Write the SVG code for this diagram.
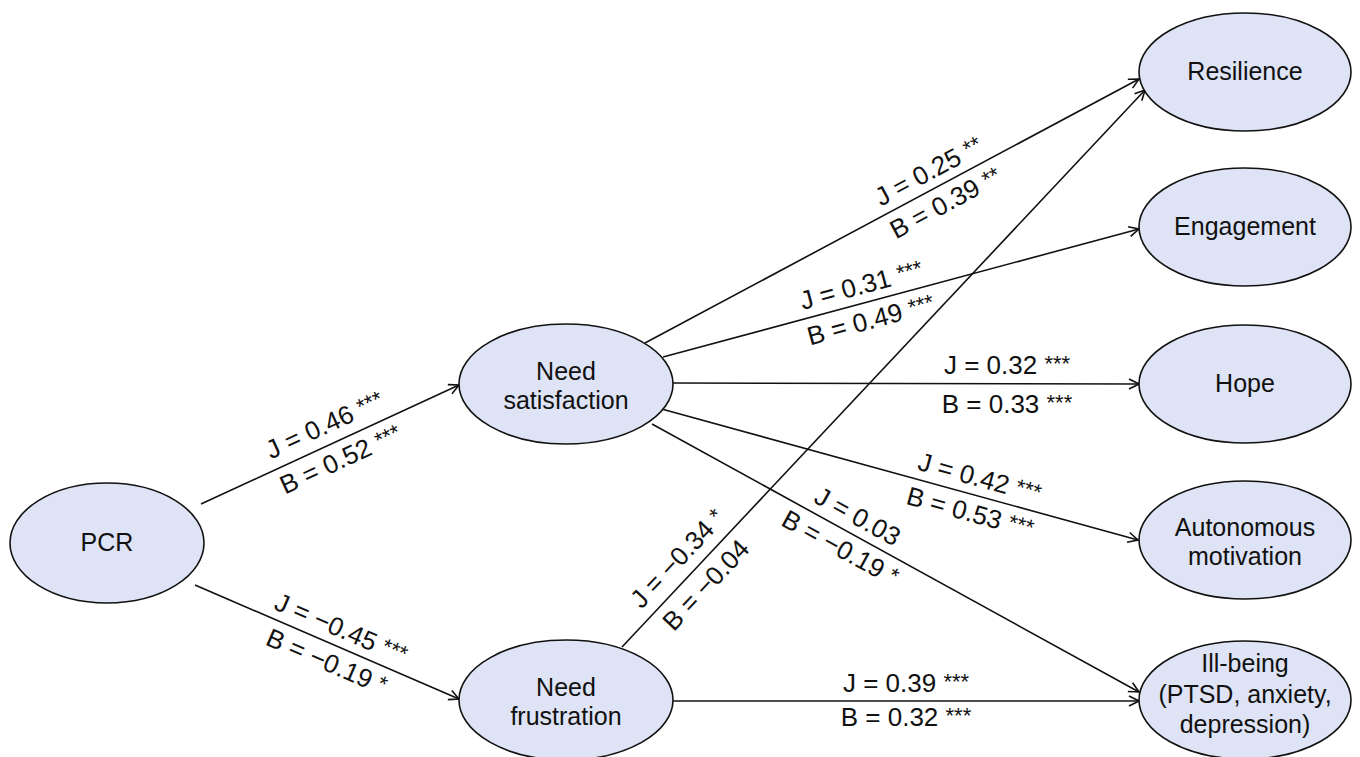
<svg xmlns="http://www.w3.org/2000/svg" width="1360" height="757" viewBox="0 0 1360 757">
<style>
.node ellipse{fill:#dee3f5;stroke:#111;stroke-width:1.6}
.node text{font-family:"Liberation Sans",Arial,sans-serif;font-size:25px;fill:#111;text-anchor:middle}
.edge{stroke:#111;stroke-width:1.6;fill:none;marker-end:url(#arr)}
.lbl{font-family:"Liberation Sans",Arial,sans-serif;font-size:26px;fill:#111;text-anchor:middle}
.st{font-size:22px}
</style>
<defs>
<marker id="arr" markerUnits="userSpaceOnUse" markerWidth="12" markerHeight="12" refX="10" refY="5" orient="auto" viewBox="-1 -1 12 12">
<path d="M0,0 L10,5 L0,10" fill="none" stroke="#111" stroke-width="1.6"/>
</marker>
</defs>
<rect width="1360" height="757" fill="#fff"/>
<g id="connectors">
<line class="edge" x1="201" y1="504" x2="459" y2="385"/>
<line class="edge" x1="195" y1="585" x2="459" y2="699"/>
<line class="edge" x1="645" y1="343" x2="1139" y2="79"/>
<line class="edge" x1="663" y1="357" x2="1139" y2="229"/>
<line class="edge" x1="673" y1="383" x2="1139" y2="384"/>
<line class="edge" x1="658" y1="408" x2="1138" y2="540"/>
<line class="edge" x1="652" y1="424" x2="1139" y2="692"/>
<line class="edge" x1="622" y1="647" x2="1145" y2="90"/>
<line class="edge" x1="673" y1="701" x2="1139" y2="701"/>
</g>
<g id="labels">
<g transform="translate(333,443) rotate(-24.76)"><text class="lbl" y="-11">J = 0.46 <tspan class="st" dy="-3">***</tspan></text><text class="lbl" y="27">B = 0.52 <tspan class="st" dy="-3">***</tspan></text></g>
<g transform="translate(334,645) rotate(23.36)"><text class="lbl" y="-9">J = −0.45 <tspan class="st" dy="-3">***</tspan></text><text class="lbl" y="27">B = −0.19 <tspan class="st" dy="-3">*</tspan></text></g>
<g transform="translate(937,187) rotate(-28.12)"><text class="lbl" y="-9">J = 0.25 <tspan class="st" dy="-3">**</tspan></text><text class="lbl" y="27">B = 0.39 <tspan class="st" dy="-3">**</tspan></text></g>
<g transform="translate(866,302.4) rotate(-15.05)"><text class="lbl" y="-9">J = 0.31 <tspan class="st" dy="-3">***</tspan></text><text class="lbl" y="27">B = 0.49 <tspan class="st" dy="-3">***</tspan></text></g>
<g transform="translate(1007,384)"><text class="lbl" y="-10">J = 0.32 <tspan class="st" dy="-3">***</tspan></text><text class="lbl" y="29">B = 0.33 <tspan class="st" dy="-3">***</tspan></text></g>
<g transform="translate(975,495) rotate(15.38)"><text class="lbl" y="-9">J = 0.42 <tspan class="st" dy="-3">***</tspan></text><text class="lbl" y="27">B = 0.53 <tspan class="st" dy="-3">***</tspan></text></g>
<g transform="translate(849,532) rotate(28.83)"><text class="lbl" y="-9">J = 0.03</text><text class="lbl" y="27">B = −0.19 <tspan class="st" dy="-3">*</tspan></text></g>
<g transform="translate(692,572) rotate(-46.8)"><text class="lbl" y="-11">J = −0.34 <tspan class="st" dy="-3">*</tspan></text><text class="lbl" y="28">B = −0.04</text></g>
<g transform="translate(906,701)"><text class="lbl" y="-9">J = 0.39 <tspan class="st" dy="-3">***</tspan></text><text class="lbl" y="25">B = 0.32 <tspan class="st" dy="-3">***</tspan></text></g>
</g>
<g id="pcr" class="node"><ellipse cx="107" cy="543" rx="97" ry="60"/><text x="107" y="551">PCR</text></g>
<g id="need-satisfaction" class="node"><ellipse cx="566" cy="384" rx="107" ry="60"/><text x="566" y="380">Need</text><text x="566" y="409">satisfaction</text></g>
<g id="need-frustration" class="node"><ellipse cx="566" cy="700" rx="107" ry="60"/><text x="566" y="696">Need</text><text x="566" y="725">frustration</text></g>
<g id="resilience" class="node"><ellipse cx="1245" cy="72" rx="106" ry="59"/><text x="1245" y="80">Resilience</text></g>
<g id="engagement" class="node"><ellipse cx="1245" cy="227" rx="106" ry="59"/><text x="1245" y="235">Engagement</text></g>
<g id="hope" class="node"><ellipse cx="1245" cy="384" rx="106" ry="59"/><text x="1245" y="392">Hope</text></g>
<g id="autonomous-motivation" class="node"><ellipse cx="1245" cy="540" rx="106" ry="59"/><text x="1245" y="536">Autonomous</text><text x="1245" y="565">motivation</text></g>
<g id="ill-being" class="node"><ellipse cx="1245" cy="700" rx="106" ry="59"/><text x="1245" y="672">Ill-being</text><text x="1245" y="703">(PTSD, anxiety,</text><text x="1245" y="733">depression)</text></g>
</svg>
